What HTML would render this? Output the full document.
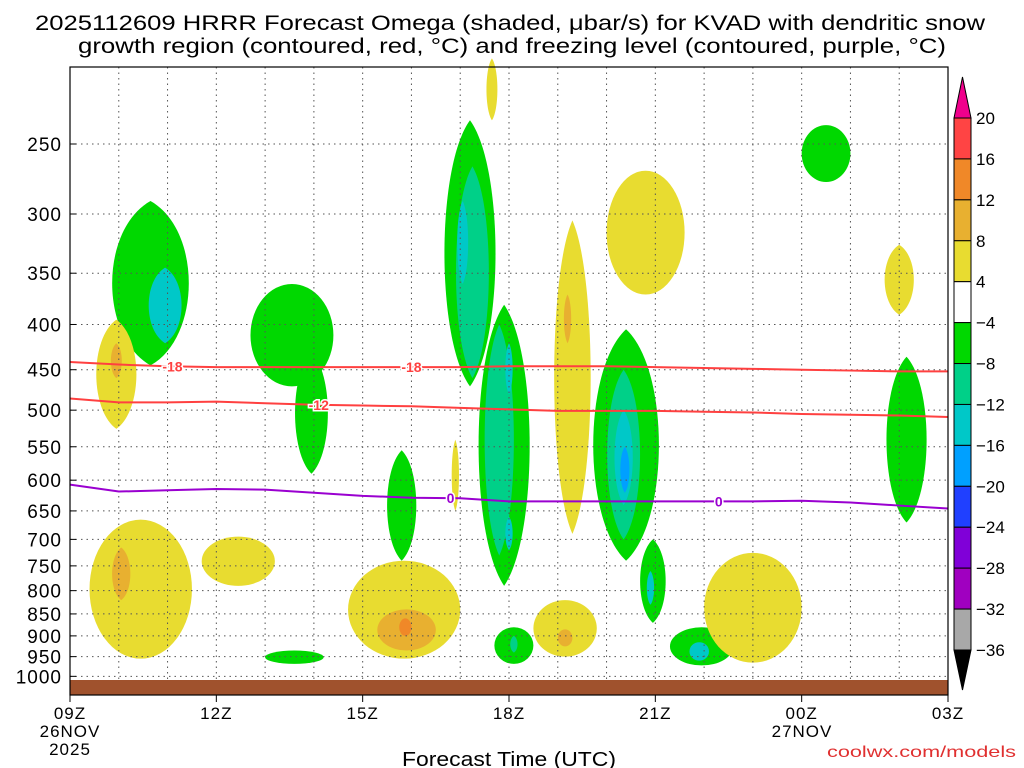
<!DOCTYPE html>
<html><head><meta charset="utf-8"><style>
html,body{margin:0;padding:0;background:#fff;}
svg{display:block;font-family:"Liberation Sans",sans-serif;}
</style></head><body>
<svg id="chart" width="1024" height="768" viewBox="0 0 1024 768">
<text x="35" y="30" textLength="950" lengthAdjust="spacingAndGlyphs" font-size="21">2025112609 HRRR Forecast Omega (shaded, μbar/s) for KVAD with dendritic snow</text>
<text x="78" y="53" textLength="868" lengthAdjust="spacingAndGlyphs" font-size="21">growth region (contoured, red, °C) and freezing level (contoured, purple, °C)</text>
<g id="fills"></g>
<g id="grid"></g>
<rect x="70" y="680" width="878" height="15" fill="#a0522d"/>
<g id="contours"></g>
<rect x="70" y="67" width="878" height="628" fill="none" stroke="#000" stroke-width="1.2"/>
<g id="axes"></g>
<g id="cbar"></g>
<text x="402" y="766" textLength="214" lengthAdjust="spacingAndGlyphs" font-size="20">Forecast Time (UTC)</text>
<text x="827" y="757" textLength="189" lengthAdjust="spacingAndGlyphs" font-size="16" fill="#e03030">coolwx.com/models</text>
</svg>
<script>
const NS="http://www.w3.org/2000/svg";
const pLevels=[250,300,350,400,450,500,550,600,650,700,750,800,850,900,950,1000];
const timeTicks=[0,3,6,9,12,15,18];
const timeLabels=["09Z","12Z","15Z","18Z","21Z","00Z","03Z"];
const cbLevels=[20,16,12,8,4,-4,-8,-12,-16,-20,-24,-28,-32,-36];
const cbColors=["#ff4444","#f08828","#e8b030","#e8dc30","#ffffff","#00d800","#00d088","#00c8c8","#00a0ff","#2040ff","#8000d8","#a000c0","#a8a8a8"];
// blobs: [hourStart, hourEnd, pTop, pBottom, colorIndex]
const blobs=[
[0.6,2.7,290,445,5],[1.5,2.4,345,420,7],
[0.4,1.5,395,525,3],[0.8,1.1,420,460,2],
[3.7,5.4,360,470,5],[4.5,5.4,430,590,5],
[8.5,8.8,200,235,3],
[7.5,8.9,235,470,5],[8.2,9.6,380,790,5],[7.8,8.7,265,460,6],[8.4,9.2,400,730,6],[7.9,8.2,290,360,7],[8.9,9.1,420,480,7],[8.9,9.1,660,720,7],
[9.8,10.8,305,690,3],[10.1,10.3,370,420,2],
[11.0,12.6,268,370,3],
[10.5,12.3,405,740,5],[11.6,12.3,700,870,5],[10.9,11.8,450,700,6],[11.8,12.0,760,830,7],[11.1,11.6,500,640,7],[11.25,11.5,550,620,8],
[15.0,16.0,238,276,5],
[16.6,17.4,325,390,3],
[16.6,17.7,435,670,5],
[0.4,2.5,665,955,3],[0.8,1.3,715,820,2],
[2.7,4.2,695,790,3],
[4.0,5.2,935,968,5],
[6.4,7.2,555,740,5],
[5.7,8.0,740,955,3],[6.3,7.5,840,935,2],[6.75,7.0,860,900,1],
[7.8,8.0,540,650,3],
[8.7,9.5,880,968,5],[9.0,9.2,900,940,6],
[9.5,10.8,820,950,3],[10.0,10.3,885,925,2],
[12.3,13.6,880,972,5],[12.7,13.1,915,960,7],
[13.0,15.0,725,965,3]
];
const hours=[0,1,2,3,4,5,6,7,8,9,10,11,12,13,14,15,16,17,18];
const lineM18=[441,444,446,447,447,447,447,447,447,446,446,446,447,448,449,450,451,452,452];
const lineM12=[485,490,490,489,491,493,494,495,497,499,501,501,501,502,503,505,506,507,509];
const line0=[607,618,616,614,615,620,625,628,629,634,634,634,634,634,634,633,636,641,646];
const xs=h=>70+h*(878/18);
const ys=p=>144+384*Math.log(p/250);
function mk(tag,attrs,parent){const e=document.createElementNS(NS,tag);for(const k in attrs)e.setAttribute(k,attrs[k]);parent.appendChild(e);return e;}
const fills=document.getElementById('fills');
blobs.forEach((b,i)=>{
 const x0=xs(b[0]),x1=xs(b[1]),y0=ys(b[2]),y1=Math.min(ys(b[3]),680);
 const cx=(x0+x1)/2,cy=(y0+y1)/2,rx=(x1-x0)/2,ry=(y1-y0)/2;
 let e;
 if(ry>1.6*rx){
  const k=0.75*rx*1.33;
  const d=`M${cx},${y0} C${cx+k},${y0+ry*0.35} ${cx+k},${y1-ry*0.35} ${cx},${y1} C${cx-k},${y1-ry*0.35} ${cx-k},${y0+ry*0.35} ${cx},${y0}Z`;
  e=mk('path',{d:d,fill:cbColors[b[4]]},fills);
 } else {
  e=mk('ellipse',{cx:cx,cy:cy,rx:rx,ry:ry,fill:cbColors[b[4]]},fills);
 }
 
 
});
const grid=document.getElementById('grid');
pLevels.forEach(p=>{
 const l=mk('line',{x1:70,x2:948,y1:ys(p),y2:ys(p),stroke:'#555','stroke-width':1,'stroke-dasharray':'1.5,4'},grid);
 
 
});
for(let h=1;h<18;h++){
 const l=mk('line',{x1:xs(h),x2:xs(h),y1:67,y2:695,stroke:'#555','stroke-width':1,'stroke-dasharray':'1.5,4'},grid);
 
 
}
const con=document.getElementById('contours');
function contour(vals,color,name,labels,txt){
 const pts=hours.map((h,i)=>xs(h)+','+ys(vals[i])).join(' ');
 const pl=mk('polyline',{points:pts,fill:'none',stroke:color,'stroke-width':2},con);
 
 
 labels.forEach(h=>{
  const i=Math.floor(h),f=h-i;const p=vals[i]+(vals[Math.min(i+1,18)]-vals[i])*f;
  const x=xs(h),y=ys(p);
  const t=mk('text',{x:x,y:y+5,'text-anchor':'middle','font-size':14,'font-weight':'bold',fill:color,stroke:'#fff','stroke-width':3,'paint-order':'stroke'},con);
  t.textContent=txt;
  
  
 });
}
contour(lineM18,'#ff4040','contour-minus18',[2.1,7.0],'-18');
contour(lineM12,'#ff4040','contour-minus12',[5.1],'-12');
contour(line0,'#9a00d0','freezing-level',[7.8,13.3],'0');
const axes=document.getElementById('axes');
pLevels.forEach(p=>{
 const t=mk('text',{x:62,y:ys(p)+7,'text-anchor':'end','font-size':19,'letter-spacing':'1'},axes);
 t.textContent=p;
 
 
 mk('line',{x1:70,x2:76,y1:ys(p),y2:ys(p),stroke:'#000'},axes);
});
timeTicks.forEach((h,i)=>{
 const t=mk('text',{x:xs(h),y:719,'text-anchor':'middle','font-size':17,'letter-spacing':'1'},axes);
 t.textContent=timeLabels[i];
 
 
 mk('line',{x1:xs(h),x2:xs(h),y1:695,y2:702,stroke:'#000'},axes);
});
[[70,"26NOV",737],[70,"2025",755],[802,"27NOV",737]].forEach(d=>{
 const t=mk('text',{x:d[0],y:d[2],'text-anchor':'middle','font-size':17,'letter-spacing':'1'},axes);
 t.textContent=d[1];
 
 
});
const cb=document.getElementById('cbar');
const cbx=954,cbw=17,cbTop=118,step=(650-118)/13;
mk('polygon',{points:`${cbx},${cbTop} ${cbx+cbw/2},77 ${cbx+cbw},${cbTop}`,fill:'#f0008c',stroke:'#000'},cb);
mk('polygon',{points:`${cbx},650 ${cbx+cbw/2},690 ${cbx+cbw},650`,fill:'#000',stroke:'#000'},cb);
cbColors.forEach((c,i)=>{
 const r=mk('rect',{x:cbx,y:cbTop+i*step,width:cbw,height:step,fill:c,stroke:'#000','stroke-width':1},cb);
 
 
});
cbLevels.forEach((v,i)=>{
 const t=mk('text',{x:976,y:cbTop+i*step+6,'font-size':17},cb);
 t.textContent=v<0?'\u2212'+(-v):String(v);
 
 
});
</script>
</body></html>
